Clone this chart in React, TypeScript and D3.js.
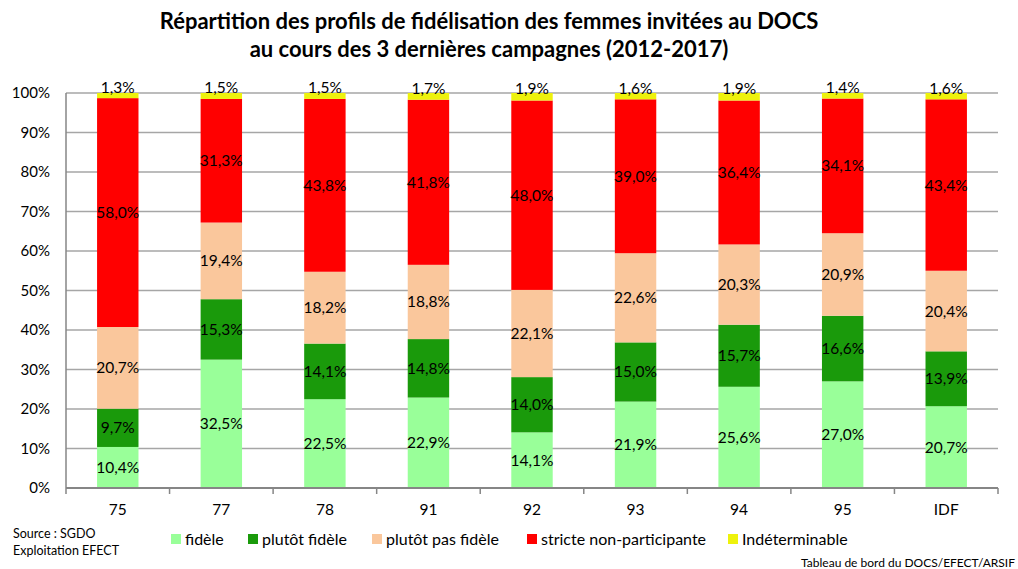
import React from "react";
import * as d3 from "d3";

const categories = ["75", "77", "78", "91", "92", "93", "94", "95", "IDF"];
const fidele = [10.4, 32.5, 22.5, 22.9, 14.1, 21.9, 25.6, 27.0, 20.7];
const plutotFidele = [9.7, 15.3, 14.1, 14.8, 14.0, 15.0, 15.7, 16.6, 13.9];
const plutotPasFidele = [20.7, 19.4, 18.2, 18.8, 22.1, 22.6, 20.3, 20.9, 20.4];
const stricteNonPart = [58.0, 31.3, 43.8, 41.8, 48.0, 39.0, 36.4, 34.1, 43.4];
const indeterminable = [1.3, 1.5, 1.5, 1.7, 1.9, 1.6, 1.9, 1.4, 1.6];
const seriesNames = ["fidèle", "plutôt fidèle", "plutôt pas fidèle", "stricte non-participante", "Indéterminable"];
const yTicks = [0, 0.1, 0.2, 0.3, 0.4, 0.5, 0.6, 0.7, 0.8, 0.9, 1];

const colors = ["#99FF99", "#1A9A0B", "#FAC79C", "#FF0000", "#EEF20C"];
const FONT = "Lato, 'Open Sans', sans-serif";

export default function App() {
  const W = 1018, H = 569;
  const left = 66, right = 998, top = 93, bottom = 488;
  const seriesValues = [fidele, plutotFidele, plutotPasFidele, stricteNonPart, indeterminable];
  const rows = categories.map((c, i) => {
    const r: any = { cat: c };
    seriesNames.forEach((k, j) => (r[k] = seriesValues[j][i]));
    return r;
  });
  const stack = d3.stack<any>().keys(seriesNames).offset(d3.stackOffsetExpand);
  const stacked = stack(rows);
  const x = d3.scaleBand().domain(categories).range([left, right]).paddingInner(0).paddingOuter(0);
  const y = d3.scaleLinear().domain([0, 1]).range([bottom, top]);
  const barW = x.bandwidth() * 0.4;
  const fmt = (v: number) => v.toFixed(1).replace(".", ",") + "%";
  const boundaries = d3.range(categories.length + 1).map((i) => left + i * x.step());

  const legendItems = [
    { sx: 171, tx: 185 },
    { sx: 248, tx: 262 },
    { sx: 372, tx: 386 },
    { sx: 527, tx: 541 },
    { sx: 728, tx: 742 },
  ];

  return (
    <svg width={W} height={H} style={{ position: "absolute", left: 0, top: 0, background: "#fff" }} fontFamily={FONT}>
      <rect width={W} height={H} fill="#fff" />
      <text x={489} y={29} textAnchor="middle" fontSize={22} fontWeight="bold" fill="#000">
        Répartition des profils de fidélisation des femmes invitées au DOCS
      </text>
      <text x={489} y={57} textAnchor="middle" fontSize={22} fontWeight="bold" fill="#000">
        au cours des 3 dernières campagnes (2012-2017)
      </text>
      {yTicks.map((t) => (
        <g key={t}>
          {t > 0 && <line x1={left} x2={right} y1={y(t)} y2={y(t)} stroke="#A6A6A6" strokeWidth={1.5} />}
          <text x={50} y={y(t) + 5} textAnchor="end" fontSize={15} fill="#000">
            {Math.round(t * 100)}%
          </text>
        </g>
      ))}
      {stacked.map((s, j) =>
        s.map((d, i) => (
          <rect
            key={j + "-" + i}
            x={(x(categories[i]) as number) + (x.bandwidth() - barW) / 2}
            y={y(d[1])}
            width={barW}
            height={y(d[0]) - y(d[1])}
            fill={colors[j]}
          />
        ))
      )}
      {stacked.map((s, j) =>
        s.map((d, i) => {
          const cx = (x(categories[i]) as number) + x.bandwidth() / 2;
          let cy = (y(d[0]) + y(d[1])) / 2;
          if (j === 4) cy -= 8;
          return (
            <text key={"l" + j + "-" + i} x={cx} y={cy + 5.5} textAnchor="middle" fontSize={15.5} fill="#000">
              {fmt(seriesValues[j][i])}
            </text>
          );
        })
      )}
      <line x1={left} x2={left} y1={top} y2={bottom} stroke="#868686" strokeWidth={1.5} />
      <line x1={left} x2={right} y1={bottom} y2={bottom} stroke="#868686" strokeWidth={2} />
      {boundaries.map((bx, i) => (
        <line key={"t" + i} x1={bx} x2={bx} y1={bottom} y2={bottom + 6} stroke="#868686" strokeWidth={1.5} />
      ))}
      {categories.map((c) => (
        <text key={"c" + c} x={(x(c) as number) + x.bandwidth() / 2} y={515} textAnchor="middle" fontSize={15.5} fill="#000">
          {c}
        </text>
      ))}
      {seriesNames.map((n, j) => (
        <g key={"lg" + j}>
          <rect x={legendItems[j].sx} y={534} width={10} height={10} fill={colors[j]} />
          <text x={legendItems[j].tx} y={544.5} fontSize={16} fill="#000">
            {n}
          </text>
        </g>
      ))}
      <text x={13} y={538} fontSize={12.5} fill="#000">Source : SGDO</text>
      <text x={13} y={555} fontSize={12.5} fill="#000">Exploitation EFECT</text>
      <text x={1015} y={567} textAnchor="end" fontSize={12} fill="#000">Tableau de bord du DOCS/EFECT/ARSIF</text>
    </svg>
  );
}
